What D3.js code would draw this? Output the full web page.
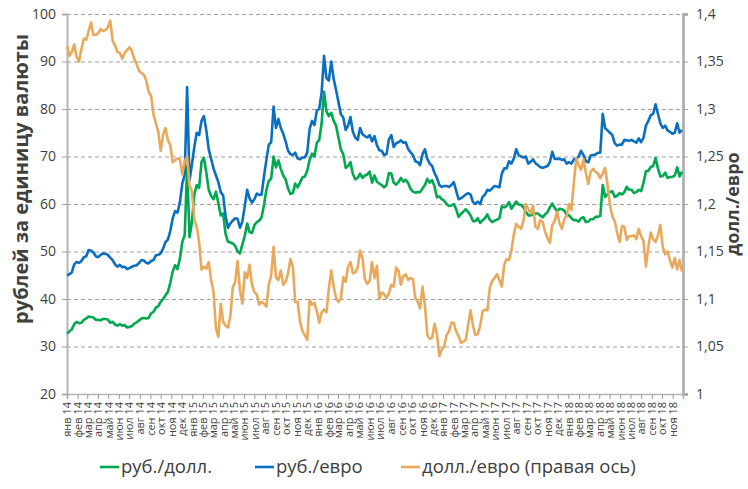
<!DOCTYPE html>
<html>
<head>
<meta charset="utf-8">
<script src="https://cdn.jsdelivr.net/npm/d3@7"></script>
<style>
  body { margin: 0; background: #fff; }
  svg { display: block; font-family: "Open Sans", "Noto Sans", sans-serif; }
</style>
</head>
<body>
<svg id="chart" width="748" height="489"></svg>
<script>
// weekly points, first one on 1 Jan 2014
const startDate = new Date(2014, 0, 1)

const monthNames = ["янв", "фев", "мар", "апр", "май", "июн", "июл", "авг", "сен", "окт", "ноя", "дек"]
const leftTicks = [20, 30, 40, 50, 60, 70, 80, 90, 100]
const rightTicks = [1, 1.05, 1.1, 1.15, 1.2, 1.25, 1.3, 1.35, 1.4]

// руб./долл.
const rubUsd = [
  32.7, 33.2, 33.6, 34.7, 35.2,   34.9, 35.0, 35.6, 35.9,   36.3, 36.2, 36.1, 35.6,
  35.6, 35.5, 35.8, 35.8, 35.7,   35.0, 35.2, 34.6, 34.4,   34.7, 34.4, 34.5, 34.0,
  34.1, 34.3, 34.8, 35.1, 35.5,   35.9, 36.0, 35.9, 36.0,   37.0, 37.3, 38.2, 38.5,
  39.4, 40.0, 40.8, 41.5, 43.4,   45.8, 47.1, 46.3, 48.5,   52.0, 53.5, 67.8, 53.0, 56.2,
  // 2015
  62.0, 64.0, 63.4, 68.9,   69.7, 66.6, 63.0, 61.7,   61.0, 62.6, 60.2, 57.6,
  58.0, 53.7, 52.1, 51.9, 51.7,   51.2, 50.0, 49.6, 51.5,   53.3, 55.9, 54.1, 53.9,
  55.5, 56.2, 56.5, 57.2, 59.8,   63.0, 64.8, 65.4, 70.0,   67.7, 69.2, 67.4, 66.0, 65.2,
  63.3, 62.1, 62.3, 64.3,   63.5, 64.5, 65.6, 65.8,   67.0, 69.3, 70.6, 70.0, 72.9,
  // 2016
  73.5, 77.0, 83.6, 79.5,   78.5, 79.2, 77.5, 76.5,   74.0, 71.5, 70.5, 67.6, 68.0,
  68.8, 66.3, 65.2, 65.5,   66.4, 65.5, 66.0, 66.2,   66.8, 64.5, 66.0, 64.7, 64.3,
  64.0, 63.5, 64.0, 66.5,   66.4, 64.5, 64.1, 64.6, 65.5,   64.7, 65.1, 64.4, 63.2,
  62.6, 62.4, 62.5, 62.5,   63.3, 64.0, 65.3, 64.5, 65.0,   63.7, 61.4, 61.6, 61.0,
  // 2017
  60.7, 60.0, 59.6, 59.7,   60.0, 58.9, 57.3, 57.9,   58.4, 58.9, 58.3, 57.6, 56.4,
  56.4, 57.0, 56.0, 56.6,   57.0, 57.8, 56.7, 56.2, 56.5,   56.7, 57.0, 59.5, 59.3,
  59.6, 60.4, 59.0, 59.8,   60.5, 59.9, 59.8, 59.3, 58.4,   57.6, 57.6, 57.8, 58.0,
  58.0, 57.6, 57.2, 57.8,   58.3, 59.3, 60.1, 59.2, 58.4,   59.0, 58.9, 58.6, 57.7,
  // 2018
  57.6, 57.0, 56.6, 56.6, 56.3,   57.0, 57.2, 56.2, 56.3,   56.8, 56.8, 57.3, 57.3,
  57.5, 64.0, 61.5, 62.0,   62.5, 62.7, 61.5, 61.7, 62.3,   62.0, 62.5, 63.6, 63.0,
  63.0, 62.3, 62.5, 63.0,   62.7, 64.5, 66.9, 67.0, 67.8,   68.0, 69.7, 67.5, 65.8,
  65.9, 66.6, 65.5, 65.7, 65.7,   66.0, 67.7, 65.8, 66.8
]

// руб./евро
const rubEur = [
  45.0, 45.2, 45.6, 47.3, 47.8,   47.6, 48.0, 48.8, 49.0,   50.3, 50.2, 49.8, 49.0,
  48.8, 49.3, 49.6, 49.5, 49.3,   48.7, 48.2, 47.3, 46.8,   47.2, 46.7, 46.8, 46.3,
  46.5, 46.8, 47.0, 47.1, 47.6,   48.2, 48.1, 47.6, 47.5,   48.0, 48.2, 49.2, 49.3,
  49.6, 50.6, 52.0, 52.5, 54.3,   57.0, 58.5, 58.2, 60.4,   64.3, 66.2, 84.6, 65.0, 68.3,
  // 2015
  72.0, 75.0, 74.5, 77.5,   78.5, 75.5, 71.5, 69.5,   67.5, 66.0, 64.6, 62.5,
  61.8, 57.5, 55.0, 55.9, 56.5,   57.0, 56.9, 55.0, 56.3,   59.5, 63.0, 61.2, 60.3,
  61.0, 62.2, 61.9, 62.0, 65.8,   69.3, 72.5, 73.0, 80.5,   76.0, 77.9, 76.0, 74.8, 73.2,
  71.2, 70.5, 70.3, 70.8,   69.6, 69.4, 69.8, 69.8,   70.8, 75.8, 77.5, 76.6, 79.7,
  // 2016
  80.0, 83.5, 91.2, 86.5,   86.0, 90.0, 86.4, 84.0,   81.5, 78.9, 78.2, 75.6, 76.5,
  78.3, 75.2, 74.0, 73.5,   76.0, 74.7, 74.3, 74.0,   74.5, 73.2, 74.3, 72.4, 71.3,
  71.2, 70.3, 70.5, 73.6,   74.5, 72.0, 72.8, 73.0, 73.4,   72.9, 73.0, 71.6, 70.9,
  70.3, 69.0, 68.8, 68.2,   70.5, 71.5, 69.5, 68.5, 68.0,   66.5, 65.5, 64.0, 63.6,
  // 2017
  63.8, 63.8, 63.6, 64.0,   64.6, 62.8, 61.0, 61.2,   61.6, 62.0, 62.3, 62.0, 60.4,
  60.0, 60.5, 60.0, 61.5,   62.0, 63.0, 62.8, 63.3, 63.8,   63.7, 63.5, 66.4, 67.5,
  67.5, 69.0, 68.5, 69.6,   71.5, 70.3, 70.0, 69.8, 70.0,   68.5, 68.9, 69.4, 68.6,
  68.2, 67.8, 67.6, 67.8,   68.0, 68.8, 71.0, 69.5, 69.5,   69.5, 69.3, 69.4, 68.5,
  // 2018
  68.8, 68.5, 69.4, 69.5, 70.0,   71.2, 70.3, 69.0, 68.8,   70.2, 70.3, 70.4, 70.8,
  70.8, 79.0, 76.0, 75.5,   75.0, 74.5, 72.8, 72.3, 72.5,   72.5, 73.5, 73.4, 73.3,
  73.5, 73.2, 72.9, 73.8,   73.0, 74.0, 76.5, 77.5, 78.7,   79.0, 81.0, 79.0, 77.0,
  76.0, 76.5, 75.5, 75.2, 74.8,   75.0, 77.0, 75.0, 75.6
]

// долл./евро (правая ось)
const usdEur = [
  1.366, 1.356, 1.360, 1.368, 1.355,   1.350, 1.363, 1.374, 1.373,   1.382, 1.391, 1.378, 1.378,
  1.380, 1.384, 1.382, 1.383, 1.386,   1.393, 1.372, 1.367, 1.360,   1.359, 1.353, 1.359, 1.362,
  1.365, 1.361, 1.353, 1.347, 1.340,   1.338, 1.336, 1.330, 1.318,   1.314, 1.294, 1.285, 1.276,
  1.256, 1.273, 1.280, 1.267, 1.262,   1.244, 1.246, 1.248, 1.247,   1.231, 1.245, 1.250, 1.219, 1.214,
  // 2015
  1.184, 1.176, 1.160, 1.131,   1.134, 1.132, 1.139, 1.120,   1.107, 1.069, 1.060, 1.095,
  1.076, 1.072, 1.070, 1.082, 1.112,   1.118, 1.140, 1.109, 1.095,   1.128, 1.122, 1.136, 1.115,
  1.107, 1.105, 1.094, 1.097, 1.095,   1.092, 1.115, 1.125, 1.155,   1.122, 1.120, 1.130, 1.115, 1.118,
  1.127, 1.142, 1.134, 1.097,   1.097, 1.076, 1.066, 1.062,   1.057, 1.099, 1.094, 1.096, 1.087,
  // 2016
  1.075, 1.086, 1.089, 1.086,   1.111, 1.130, 1.113, 1.101,   1.097, 1.100, 1.123, 1.118, 1.134,
  1.139, 1.127, 1.128, 1.133,   1.151, 1.143, 1.121, 1.116,   1.119, 1.139, 1.122, 1.135, 1.100,
  1.107, 1.105, 1.101, 1.106,   1.115, 1.113, 1.133, 1.130, 1.115,   1.124, 1.126, 1.120, 1.122,
  1.121, 1.101, 1.097, 1.090,   1.113, 1.093, 1.062, 1.058, 1.059,   1.074, 1.063, 1.040, 1.047,
  // 2017
  1.050, 1.062, 1.066, 1.075,   1.075, 1.066, 1.061, 1.054,   1.055, 1.057, 1.073, 1.088, 1.072,
  1.062, 1.063, 1.072, 1.087,   1.089, 1.088, 1.112, 1.119, 1.122,   1.126, 1.120, 1.113, 1.136,
  1.142, 1.141, 1.151, 1.168,   1.179, 1.176, 1.174, 1.182, 1.200,   1.195, 1.190, 1.198, 1.176,
  1.174, 1.183, 1.181, 1.171,   1.164, 1.159, 1.178, 1.182, 1.192,   1.180, 1.174, 1.184, 1.188,
  // 2018
  1.200, 1.194, 1.223, 1.248, 1.241,   1.236, 1.247, 1.233, 1.221,   1.234, 1.237, 1.234, 1.232,
  1.227, 1.232, 1.238, 1.221,   1.199, 1.187, 1.182, 1.170, 1.160,   1.177, 1.176, 1.162, 1.166,
  1.166, 1.167, 1.163, 1.174,   1.166, 1.161, 1.134, 1.155, 1.170,   1.163, 1.160, 1.167, 1.178,
  1.155, 1.147, 1.150, 1.141, 1.133,   1.143, 1.131, 1.141, 1.129
]

const series = [
  {name: "руб./долл.", values: rubUsd, color: "#00a84f", axis: "left"},
  {name: "руб./евро", values: rubEur, color: "#0a6fbf", axis: "left"},
  {name: "долл./евро (правая ось)", values: usdEur, color: "#e9a95c", axis: "right"}
]

const margin = {top: 14, right: 65, bottom: 95, left: 67}
const width = 748, height = 489
const textColor = "#404040"
const gridColor = "#a0a0a0"

const svg = d3.select("#chart")

const x = d3.scaleTime()
    .domain([startDate, new Date(2018, 11, 1)])
    .range([margin.left, width - margin.right])
const yLeft = d3.scaleLinear().domain([20, 100]).range([height - margin.bottom, margin.top])
const yRight = d3.scaleLinear().domain([1, 1.4]).range([height - margin.bottom, margin.top])

const dateAt = i => d3.timeDay.offset(startDate, 7 * i)

// grid
svg.append("g")
    .selectAll("line")
    .data(leftTicks.slice(1))
    .join("line")
        .attr("x1", margin.left)
        .attr("x2", width - margin.right)
        .attr("y1", d => yLeft(d) + 0.5)
        .attr("y2", d => yLeft(d) + 0.5)
        .attr("stroke", gridColor)
        .attr("stroke-width", 1)
        .attr("stroke-dasharray", "4,3")

// left axis
const gLeft = svg.append("g")
    .attr("transform", `translate(${margin.left},0)`)
    .call(d3.axisLeft(yLeft).tickValues(leftTicks).tickSize(5).tickPadding(6))
gLeft.select(".domain").attr("stroke", "#b5b5b5").attr("stroke-width", 2)
gLeft.selectAll(".tick line").attr("stroke", gridColor)
gLeft.selectAll(".tick text").attr("fill", textColor).style("font-size", "14px")
    .attr("font-family", "'Open Sans', sans-serif")

// right axis
const fmtComma = d => String(+d.toFixed(2)).replace(".", ",")
const gRight = svg.append("g")
    .attr("transform", `translate(${width - margin.right},0)`)
    .call(d3.axisRight(yRight).tickValues(rightTicks).tickFormat(fmtComma).tickSize(5).tickPadding(8))
gRight.select(".domain").attr("stroke", "#b5b5b5").attr("stroke-width", 3)
gRight.selectAll(".tick line").attr("stroke", gridColor)
gRight.selectAll(".tick text").attr("fill", textColor).style("font-size", "14px")
    .attr("font-family", "'Open Sans', sans-serif")

// bottom axis
const months = d3.timeMonth.range(startDate, new Date(2018, 11, 1))
const gBottom = svg.append("g")
    .attr("transform", `translate(0,${height - margin.bottom})`)
    .call(d3.axisBottom(x).tickValues(months).tickSize(5).tickPadding(4)
        .tickFormat(d => monthNames[d.getMonth()] + " " + String(d.getFullYear()).slice(2)))
gBottom.select(".domain").attr("stroke", "#b5b5b5").attr("stroke-width", 1.5)
gBottom.selectAll(".tick line").attr("stroke", "#9a9a9a")
gBottom.selectAll(".tick text")
    .attr("fill", textColor)
    .style("font-size", "11px")
    .attr("font-family", "'Open Sans', sans-serif")
    .attr("transform", "rotate(-90)")
    .attr("text-anchor", "end")
    .attr("x", -8)
    .attr("y", 0)
    .attr("dy", "0.35em")

// lines
series.forEach(s => {
    const yScale = s.axis === "left" ? yLeft : yRight
    const line = d3.line()
        .x((d, i) => x(dateAt(i)))
        .y(d => yScale(d))
    svg.append("path")
        .datum(s.values)
        .attr("fill", "none")
        .attr("stroke", s.color)
        .attr("stroke-width", 2.6)
        .attr("stroke-linejoin", "round")
        .attr("d", line)
})

// axis titles
svg.append("text")
    .attr("transform", `translate(28,${(margin.top + height - margin.bottom) / 2 - 25}) rotate(-90)`)
    .attr("text-anchor", "middle")
    .attr("fill", textColor)
    .style("font-size", "20px")
    .style("font-weight", "bold")
    .text("рублей за единицу валюты")

svg.append("text")
    .attr("transform", `translate(739,${(margin.top + height - margin.bottom) / 2}) rotate(-90)`)
    .attr("text-anchor", "middle")
    .attr("fill", textColor)
    .style("font-size", "18px")
    .style("font-weight", "bold")
    .text("долл./евро")

// legend
const legendX = [100, 255, 401]
const legend = svg.append("g").attr("transform", "translate(0,467)")
series.forEach((s, i) => {
    legend.append("line")
        .attr("x1", legendX[i]).attr("x2", legendX[i] + 19)
        .attr("y1", 0).attr("y2", 0)
        .attr("stroke", s.color)
        .attr("stroke-width", 2.6)
    legend.append("text")
        .attr("x", legendX[i] + 21)
        .attr("y", 0)
        .attr("dy", "0.35em")
        .attr("fill", textColor)
        .style("font-size", "18.5px")
        .text(s.name)
})
</script>
</body>
</html>
